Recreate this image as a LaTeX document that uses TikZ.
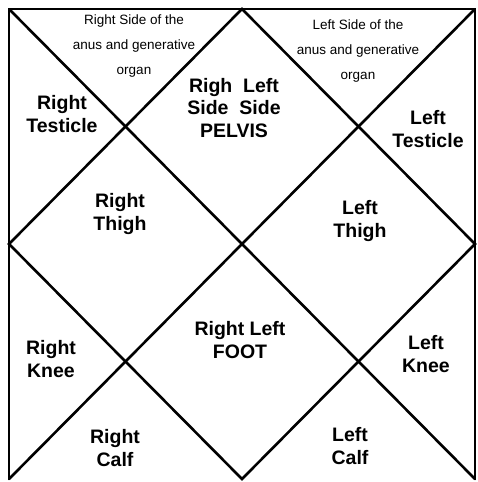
\documentclass[tikz,border=0pt]{standalone}
\usepackage{fontspec}
\setmainfont{Liberation Sans}
\begin{document}
\begin{tikzpicture}[x=1pt,y=-1pt,
  chartline/.style={line width=2.6pt,line cap=round,line join=miter},
  big/.style={font=\bfseries\fontsize{19.5}{22.5}\selectfont,align=center,inner sep=0pt},
  small/.style={font=\fontsize{13.5}{25}\selectfont,align=center,inner sep=0pt}]
\useasboundingbox (0,0) rectangle (477,482);
\coordinate (TL) at (9,9);
\coordinate (TR) at (475,9);
\coordinate (BR) at (475,479);
\coordinate (BL) at (9,479);
\coordinate (T) at (242,9);
\coordinate (R) at (475,244);
\coordinate (B) at (242,479);
\coordinate (L) at (9,244);
\draw[chartline] (BL) -- (TL) -- (TR) -- (BR);
\draw[chartline] (TL) -- (BR);
\draw[chartline] (TR) -- (BL);
\draw[chartline] (T) -- (R) -- (B) -- (L) -- cycle;

\node[small] (rs) at (134,46) {Right Side of the\\anus and generative\\organ};
\node[small] (ls) at (358,51) {Left Side of the\\anus and generative\\organ};
\node[big] (rt) at (62,114) {Right\\Testicle};
\node[big] (pel) at (234,108) {Righ\ \ Left\\Side\ \ Side\\PELVIS};
\node[big] (lt) at (428,129) {Left\\Testicle};
\node[big] (rth) at (120,214) {Right\\Thigh};
\node[big] (lth) at (360,221) {Left\\Thigh};
\node[big] (foot) at (240,340) {Right Left\\FOOT};
\node[big] (rk) at (51,359) {Right\\Knee};
\node[big] (lk) at (426,354) {Left\\Knee};
\node[big] (rc) at (115,448) {Right\\Calf};
\node[big] (lc) at (350,446) {Left\\Calf};
\end{tikzpicture}
\end{document}
